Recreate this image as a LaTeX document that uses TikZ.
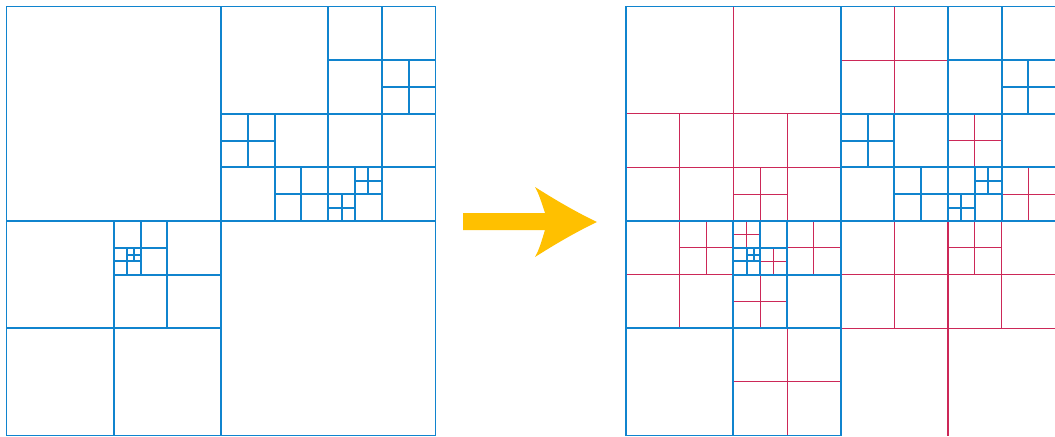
\documentclass[tikz,border=0pt]{standalone}
\definecolor{cellblue}{RGB}{16,132,206}
\definecolor{extrared}{RGB}{204,40,88}
\definecolor{arrowyellow}{RGB}{255,192,0}
\newcommand{\bluetree}{%
     \draw[cell](0,32) -- (64,32);
     \draw[cell](32,0) -- (32,64);
     \draw[cell](48,0) -- (48,32);
     \draw[cell](32,16) -- (64,16);
     \draw[cell](56,0) -- (56,16);
     \draw[cell](48,8) -- (64,8);
     \draw[cell](60,8) -- (60,16);
     \draw[cell](56,12) -- (64,12);
     \draw[cell](40,16) -- (40,32);
     \draw[cell](32,24) -- (48,24);
     \draw[cell](36,16) -- (36,24);
     \draw[cell](32,20) -- (40,20);
     \draw[cell](44,24) -- (44,32);
     \draw[cell](40,28) -- (48,28);
     \draw[cell](56,16) -- (56,32);
     \draw[cell](48,24) -- (64,24);
     \draw[cell](52,24) -- (52,32);
     \draw[cell](48,28) -- (56,28);
     \draw[cell](54,24) -- (54,28);
     \draw[cell](52,26) -- (56,26);
     \draw[cell](50,28) -- (50,32);
     \draw[cell](48,30) -- (52,30);
     \draw[cell](16,32) -- (16,64);
     \draw[cell](0,48) -- (32,48);
     \draw[cell](24,32) -- (24,48);
     \draw[cell](16,40) -- (32,40);
     \draw[cell](20,32) -- (20,40);
     \draw[cell](16,36) -- (24,36);
     \draw[cell](18,36) -- (18,40);
     \draw[cell](16,38) -- (20,38);
     \draw[cell](19,36) -- (19,38);
     \draw[cell](18,37) -- (20,37);
}
\begin{document}
\begin{tikzpicture}[x=0.025cm,y=-0.025cm]
    \tikzset{cell/.style = {draw=cellblue,line width=1.4pt,line cap=rect}, extra/.style = {draw=extrared,line width=0.8pt}, quadscale/.style = {scale=6.703125}}
    \useasboundingbox (0,0) rectangle (1055,436);
    \begin{scope}[shift={(6.5,6.5)},quadscale]
     \draw[cell](0,0) rectangle (64,64);
     \bluetree
    \end{scope}
    \begin{scope}[shift={(626.2,6.5)},quadscale]
     \draw[extra](16,0) -- (16,32);
     \draw[extra](0,16) -- (32,16);
     \draw[extra](8,16) -- (8,32);
     \draw[extra](0,24) -- (16,24);
     \draw[extra](24,16) -- (24,32);
     \draw[extra](16,24) -- (32,24);
     \draw[extra](20,24) -- (20,32);
     \draw[extra](16,28) -- (24,28);
     \draw[extra](8,32) -- (8,48);
     \draw[extra](0,40) -- (16,40);
     \draw[extra](12,32) -- (12,40);
     \draw[extra](8,36) -- (16,36);
     \draw[extra](18,32) -- (18,36);
     \draw[extra](16,34) -- (20,34);
     \draw[extra](22,36) -- (22,40);
     \draw[extra](20,38) -- (24,38);
     \draw[extra](28,32) -- (28,40);
     \draw[extra](24,36) -- (32,36);
     \draw[extra](20,40) -- (20,48);
     \draw[extra](16,44) -- (24,44);
     \draw[extra](24,48) -- (24,64);
     \draw[extra](16,56) -- (32,56);
     \draw[extra](40,0) -- (40,16);
     \draw[extra](32,8) -- (48,8);
     \draw[extra](52,16) -- (52,24);
     \draw[extra](48,20) -- (56,20);
     \draw[extra](60,24) -- (60,32);
     \draw[extra](56,28) -- (64,28);
     \draw[extra](48,32) -- (48,64);
     \draw[extra](32,48) -- (64,48);
     \draw[extra](40,32) -- (40,48);
     \draw[extra](32,40) -- (48,40);
     \draw[extra](56,32) -- (56,48);
     \draw[extra](48,40) -- (64,40);
     \draw[extra](52,32) -- (52,40);
     \draw[extra](48,36) -- (56,36);
     \draw[cell](64,0) -- (0,0) -- (0,64) -- (32,64);
     \bluetree
    \end{scope}
    \fill[arrowyellow] (463,213) -- (545,213) .. controls (541,201) and (539,194) .. (535,187) .. controls (557,201) and (578,213) .. (597,222) .. controls (578,231) and (557,243) .. (535,257) .. controls (539,250) and (541,243) .. (545,230) -- (463,230) -- cycle;
\end{tikzpicture}
\end{document}
